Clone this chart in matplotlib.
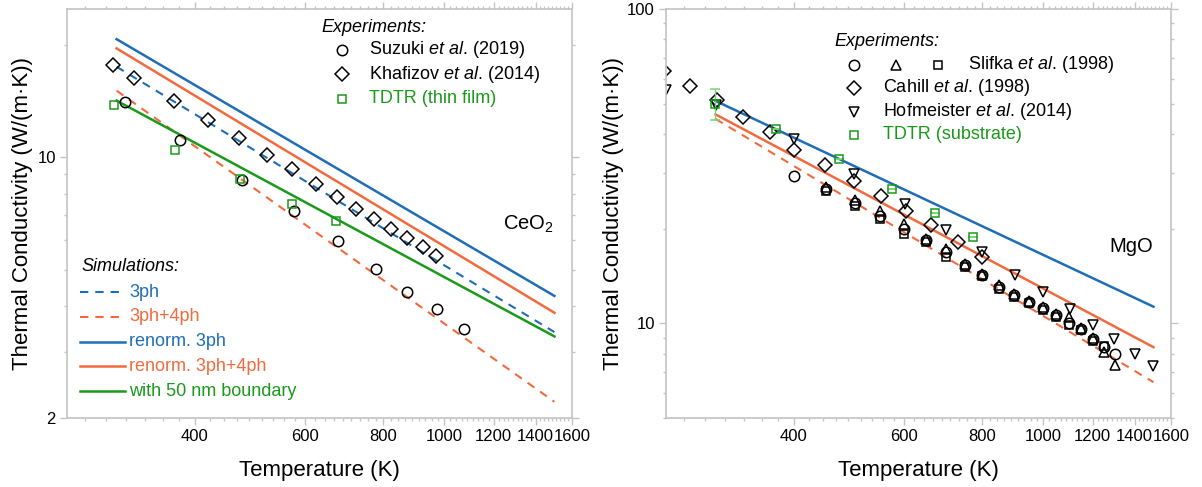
# -*- coding: utf-8 -*-
"""Thermal conductivity of CeO2 and MgO: experiments vs. simulations."""

import matplotlib
matplotlib.use('Agg')

import numpy as np
import matplotlib.pyplot as plt
from matplotlib.ticker import FixedLocator, NullFormatter, LogLocator

plt.rcParams['font.family'] = ['Liberation Sans', 'DejaVu Sans']
plt.rcParams['mathtext.fontset'] = 'custom'
plt.rcParams['mathtext.rm'] = 'Liberation Sans'
plt.rcParams['mathtext.it'] = 'Liberation Sans:italic'
plt.rcParams['lines.scale_dashes'] = False

c_blue = '#1f6db6'
c_orange = '#f26a3d'
c_green = '#1a9a1a'
c_grey = '#c4c4c4'

# ---------------- CeO2 data ----------------
suzuki_T = [309, 379, 475, 576, 677, 778, 874, 974, 1076]
suzuki_k = [14.1, 11.1, 8.7, 7.17, 5.97, 5.03, 4.36, 3.91, 3.47]

khafizov_T = [296, 320, 370, 420, 470, 522, 572, 624, 674, 722, 774, 824, 872, 924, 972]
khafizov_k = [17.7, 16.3, 14.2, 12.6, 11.25, 10.15, 9.28, 8.49, 7.84, 7.27, 6.83, 6.42, 6.08, 5.75, 5.44]

tdtr_film_T = [297, 372, 472, 572, 672]
tdtr_film_k = [13.85, 10.47, 8.75, 7.52, 6.74]

sim_T = [300, 1500]
ceo2_3ph = [17.5, 3.40]
ceo2_34ph = [15.1, 2.21]
ceo2_r3ph = [20.75, 4.25]
ceo2_r34ph = [19.6, 3.83]
ceo2_bnd = [14.2, 3.31]

# ---------------- MgO data ----------------
slifka_T = [450, 500, 550, 600, 650, 700, 750, 800, 850, 900, 950, 1000, 1050, 1100, 1150, 1200, 1250, 1300]
slifka_circ_T = [400] + slifka_T
slifka_circ_k = [29.5, 26.8, 24.2, 22.0, 20.0, 18.4, 16.9, 15.3, 14.3, 13.1, 12.3, 11.7, 11.2, 10.6, 10.0, 9.6, 8.9, 8.4, 8.0]
slifka_tri_k = [27.1, 24.6, 22.8, 20.7, 18.6, 17.3, 15.4, 14.4, 13.2, 12.4, 11.8, 11.3, 10.7, 10.5, 9.7, 9.0, 8.1, 7.35]
slifka_sq_T = slifka_T[:-1]
slifka_sq_k = [26.4, 23.6, 21.5, 19.2, 18.1, 16.3, 15.1, 14.1, 12.9, 12.1, 11.6, 11.0, 10.5, 9.9, 9.5, 8.8, 8.5]

cahill_T = [248, 273, 301, 332, 366, 400, 449, 499, 552, 603, 661, 731, 800]
cahill_k = [63.6, 56.8, 51.5, 45.3, 40.5, 35.7, 31.9, 28.4, 25.4, 22.8, 20.6, 18.2, 16.3]

hofm_T = [250, 300, 400, 499, 601, 701, 800, 903, 1000, 1102, 1200, 1299, 1401, 1500]
hofm_k = [55.1, 49.5, 38.6, 29.8, 24.0, 19.8, 16.9, 14.3, 12.6, 11.1, 9.86, 8.9, 8.0, 7.3]

tdtr_sub_T = [299, 374, 473, 573, 673, 773]
tdtr_sub_k = [50.0, 41.4, 33.3, 26.8, 22.5, 18.8]
tdtr_sub_err = [5.7, 0, 0, 0, 0, 0]

mgo_r3ph = [51.0, 11.3]
mgo_r34ph = [46.2, 8.4]
mgo_34ph = [44.7, 6.5]

x_major = [400, 600, 800, 1000, 1200, 1400, 1600]
x_minor = np.arange(200, 1601, 200 / 9.)

mk = dict(mfc='none', mew=1.1, ls='none')
ms_o, ms_d, ms_s, ms_t = 7.5, 7, 6, 7.5


def style_axes(ax, ylims, yticks):
    ax.set_xscale('log')
    ax.set_yscale('log')
    ax.set_xlim(250, 1600)
    ax.set_ylim(*ylims)
    ax.xaxis.set_major_locator(FixedLocator(x_major))
    ax.xaxis.set_minor_locator(FixedLocator(x_minor))
    ax.set_xticklabels([str(t) for t in x_major])
    ax.xaxis.set_minor_formatter(NullFormatter())
    ax.yaxis.set_major_locator(FixedLocator(yticks))
    ax.set_yticklabels([str(t) for t in yticks])
    ax.yaxis.set_minor_locator(LogLocator(base=10, subs=np.arange(2, 10)))
    ax.yaxis.set_minor_formatter(NullFormatter())
    for s in ax.spines.values():
        s.set_color(c_grey)
        s.set_linewidth(1.2)
    ax.tick_params(which='both', direction='out', top=True, right=True,
                   color=c_grey, width=1.0, labelsize=12, pad=3)
    ax.tick_params(which='major', length=5)
    ax.tick_params(which='minor', length=2.5)
    ax.set_xlabel('Temperature (K)', fontsize=16)
    ax.set_ylabel('Thermal Conductivity (W/(m·K))', fontsize=16)
    ax.xaxis.set_label_coords(0.5, -0.103)


def marker_row(ax, xs, y, markers, xt, label, color='k', fs=13):
    for x, (m, ms, mc) in zip(xs, markers):
        ax.plot([x], [y], m, ms=ms, mec=mc, transform=ax.transAxes, clip_on=False, **mk)
    ax.text(xt, y, label, color=color, fontsize=fs, va='center', ha='left',
            transform=ax.transAxes)


def line_row(ax, y, ls, color, label, fs=13):
    ax.plot([0.025, 0.114], [y, y], ls=ls, color=color, lw=1.8 if ls == '-' else 1.5,
            dashes=(6, 5) if ls == '--' else (None, None), transform=ax.transAxes)
    ax.text(0.123, y, label, color=color, fontsize=fs, va='center', ha='left',
            transform=ax.transAxes)


fig = plt.figure(figsize=(12.02, 4.87), dpi=100)
ax1 = fig.add_axes([67 / 1202., 69 / 487., 505 / 1202., 409 / 487.])
ax2 = fig.add_axes([666 / 1202., 69 / 487., 505 / 1202., 409 / 487.])

# ---------------- CeO2 panel ----------------
ax1.plot(sim_T, ceo2_3ph, color=c_blue, lw=1.5, dashes=(6, 5))
ax1.plot(sim_T, ceo2_34ph, color=c_orange, lw=1.5, dashes=(6, 5))
ax1.plot(sim_T, ceo2_r3ph, color=c_blue, lw=1.8)
ax1.plot(sim_T, ceo2_r34ph, color=c_orange, lw=1.8)
ax1.plot(sim_T, ceo2_bnd, color=c_green, lw=1.8)
ax1.plot(suzuki_T, suzuki_k, 'o', ms=ms_o, mec='k', **mk)
ax1.plot(khafizov_T, khafizov_k, 'D', ms=ms_d, mec='k', **mk)
ax1.plot(tdtr_film_T, tdtr_film_k, 's', ms=ms_s, mec=c_green, **mk)
style_axes(ax1, (2, 25), [2, 10])
ax1.yaxis.set_label_coords(-0.067, 0.5)

ax1.text(0.504, 0.955, 'Experiments:', style='italic', fontsize=13, va='center',
         transform=ax1.transAxes)
marker_row(ax1, [0.5455], 0.9, [('o', ms_o, 'k')], 0.599, r'Suzuki $\mathit{et\ al}$. (2019)')
marker_row(ax1, [0.5455], 0.841, [('D', ms_d, 'k')], 0.599, r'Khafizov $\mathit{et\ al}$. (2014)')
marker_row(ax1, [0.5455], 0.781, [('s', ms_s, c_green)], 0.599, 'TDTR (thin film)', color=c_green)

ax1.text(0.029, 0.370, 'Simulations:', style='italic', fontsize=13, va='center',
         transform=ax1.transAxes)
line_row(ax1, 0.308, '--', c_blue, '3ph')
line_row(ax1, 0.247, '--', c_orange, '3ph+4ph')
line_row(ax1, 0.186, '-', c_blue, 'renorm. 3ph')
line_row(ax1, 0.127, '-', c_orange, 'renorm. 3ph+4ph')
line_row(ax1, 0.066, '-', c_green, 'with 50 nm boundary')
ax1.text(0.964, 0.474, r'CeO$_2$', fontsize=14.5, ha='right', va='center',
         transform=ax1.transAxes)

# ---------------- MgO panel ----------------
ax2.plot(sim_T, mgo_34ph, color=c_orange, lw=1.5, dashes=(6, 5))
ax2.plot(sim_T, mgo_r3ph, color=c_blue, lw=1.8)
ax2.plot(sim_T, mgo_r34ph, color=c_orange, lw=1.8)
ax2.plot(slifka_circ_T, slifka_circ_k, 'o', ms=ms_o, mec='k', **mk)
ax2.plot(slifka_T, slifka_tri_k, '^', ms=ms_t, mec='k', **mk)
ax2.plot(slifka_sq_T, slifka_sq_k, 's', ms=ms_s, mec='k', **mk)
ax2.plot(cahill_T, cahill_k, 'D', ms=ms_d, mec='k', **mk)
ax2.plot(hofm_T, hofm_k, 'v', ms=ms_t, mec='k', **mk)
ax2.errorbar(tdtr_sub_T, tdtr_sub_k, yerr=tdtr_sub_err, fmt='s', ms=ms_s, mec=c_green,
             mfc='none', mew=1.1, ecolor='#7ccf7c', elinewidth=1.0, capsize=3.5)
style_axes(ax2, (5, 100), [10, 100])
ax2.yaxis.set_label_coords(-0.083, 0.5)

ax2.text(0.334, 0.92, 'Experiments:', style='italic', fontsize=13, va='center',
         transform=ax2.transAxes)
marker_row(ax2, [0.372, 0.4554, 0.5396], 0.864,
           [('o', ms_o, 'k'), ('^', ms_t, 'k'), ('s', ms_s, 'k')], 0.599,
           r'Slifka $\mathit{et\ al}$. (1998)')
marker_row(ax2, [0.372], 0.807, [('D', ms_d, 'k')], 0.429, r'Cahill $\mathit{et\ al}$. (1998)')
marker_row(ax2, [0.372], 0.749, [('v', ms_t, 'k')], 0.429, r'Hofmeister $\mathit{et\ al}$. (2014)')
marker_row(ax2, [0.372], 0.692, [('s', ms_s, c_green)], 0.429, 'TDTR (substrate)', color=c_green)
ax2.text(0.964, 0.419, 'MgO', fontsize=14.5, ha='right', va='center',
         transform=ax2.transAxes)

fig.savefig('out.png', dpi=100)
